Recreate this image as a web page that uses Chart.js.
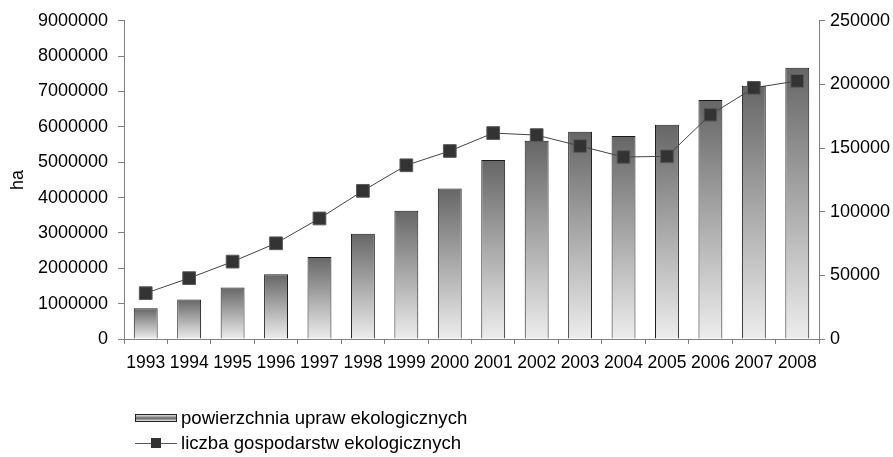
<!DOCTYPE html>
<html>
<head>
<meta charset="utf-8">
<script src="https://cdn.jsdelivr.net/npm/chart.js@4.4.1/dist/chart.umd.min.js"></script>
<style>
  html, body { margin:0; padding:0; background:#ffffff; }
  #wrap { position:relative; width:893px; height:457px; }
  #legend { position:absolute; left:135px; top:405px; font-family:"Liberation Sans", Arial, sans-serif; font-size:18.6px; color:#000; }
  .item { display:flex; align-items:center; height:25px; }
  .sw { width:42px; height:8px; margin-right:4px; position:relative; }
  .sw.bar { box-sizing:border-box; border:1px solid #222; background:linear-gradient(#dcdcdc, #666666 55%, #e6e6e6); }
  .sw.line { height:10px; }
  .sw.line:before { content:""; position:absolute; left:0; right:0; top:5px; height:1px; background:#555; }
  .sw.line:after { content:""; position:absolute; left:16px; top:0; width:10px; height:10px; background:#333; }
</style>
</head>
<body>
<div id="wrap">
  <canvas id="chart" width="893" height="457"></canvas>
  <div id="legend">
    <div class="item"><span class="sw bar"></span><span id="lab0"></span></div>
    <div class="item"><span class="sw line"></span><span id="lab1"></span></div>
  </div>
</div>
<script>
//------------------------------------------------------
// DATA
//------------------------------------------------------

const years = ["1993","1994","1995","1996","1997","1998","1999","2000",
               "2001","2002","2003","2004","2005","2006","2007","2008"];

const areaHa = [870000, 1120000, 1460000, 1830000, 2320000, 2980000, 3630000, 4260000,
                5060000, 5610000, 5860000, 5740000, 6060000, 6760000, 7160000, 7670000];

const farms = [36000, 47800, 60800, 75200, 94700, 116400, 136500, 147700,
               161800, 160200, 151600, 143000, 143500, 176200, 197300, 202800];

const seriesNames = ["powierzchnia upraw ekologicznych", "liczba gospodarstw ekologicznych"];

const axisTitle = "ha";

//------------------------------------------------------
// LEGEND TEXT
//------------------------------------------------------

document.getElementById("lab0").textContent = seriesNames[0];
document.getElementById("lab1").textContent = seriesNames[1];

//------------------------------------------------------
// BAR GRADIENT
//------------------------------------------------------

function barGradient(context){

    const chart = context.chart;

    if(!chart.chartArea || context.type !== "data") return "#999999";

    const yScale = chart.scales.y;
    const top = yScale.getPixelForValue(context.raw);
    const bottom = yScale.getPixelForValue(0);

    const g = chart.ctx.createLinearGradient(0, top, 0, bottom);
    g.addColorStop(0, "#666666");
    g.addColorStop(1, "#ededed");

    return g;
}

//------------------------------------------------------
// CHART
//------------------------------------------------------

const axisGray = "#808080";
const font = { family:"'Liberation Sans', Arial, sans-serif", size:18 };

new Chart(document.getElementById("chart").getContext("2d"), {

    data:{
        labels:years,
        datasets:[
            {
                type:"line",
                label:seriesNames[1],
                data:farms,
                yAxisID:"y1",
                order:0,
                borderColor:"#444444",
                borderWidth:1,
                pointStyle:"rect",
                pointRadius:9,
                pointBackgroundColor:"#333333",
                pointBorderColor:"#5a5a5a",
                pointBorderWidth:1,
                tension:0
            },
            {
                type:"bar",
                label:seriesNames[0],
                data:areaHa,
                yAxisID:"y",
                order:1,
                backgroundColor:barGradient,
                borderColor:"#1a1a1a",
                borderWidth:1,
                categoryPercentage:1,
                barPercentage:0.55
            }
        ]
    },

    options:{
        responsive:false,
        animation:false,
        layout:{ padding:{ left:0, right:0, top:20, bottom:88 } },
        plugins:{
            legend:{ display:false },
            tooltip:{ enabled:false }
        },
        scales:{
            x:{
                offset:true,
                grid:{ offset:true, drawOnChartArea:false, color:axisGray, tickLength:5 },
                border:{ color:axisGray, width:1 },
                ticks:{ color:"#000", font:{ family:font.family, size:17.5 }, padding:9, maxRotation:0, autoSkip:false },
                afterFit:function(scale){ scale.height = 30; }
            },
            y:{
                position:"left",
                min:0,
                max:9000000,
                grid:{ drawOnChartArea:false, color:axisGray, tickLength:6 },
                border:{ color:axisGray, width:1 },
                ticks:{ stepSize:1000000, color:"#000", font:font, padding:10,
                        callback:function(v){ return String(v); } },
                title:{ display:true, text:axisTitle, color:"#000", font:font, padding:{ top:7, bottom:0 } },
                afterFit:function(scale){ scale.width = 124; }
            },
            y1:{
                position:"right",
                min:0,
                max:250000,
                grid:{ drawOnChartArea:false, color:axisGray, tickLength:6 },
                border:{ color:axisGray, width:1 },
                ticks:{ stepSize:50000, color:"#000", font:font, padding:5,
                        callback:function(v){ return String(v); } },
                afterFit:function(scale){ scale.width = 74; }
            }
        }
    }

});
</script>
</body>
</html>
